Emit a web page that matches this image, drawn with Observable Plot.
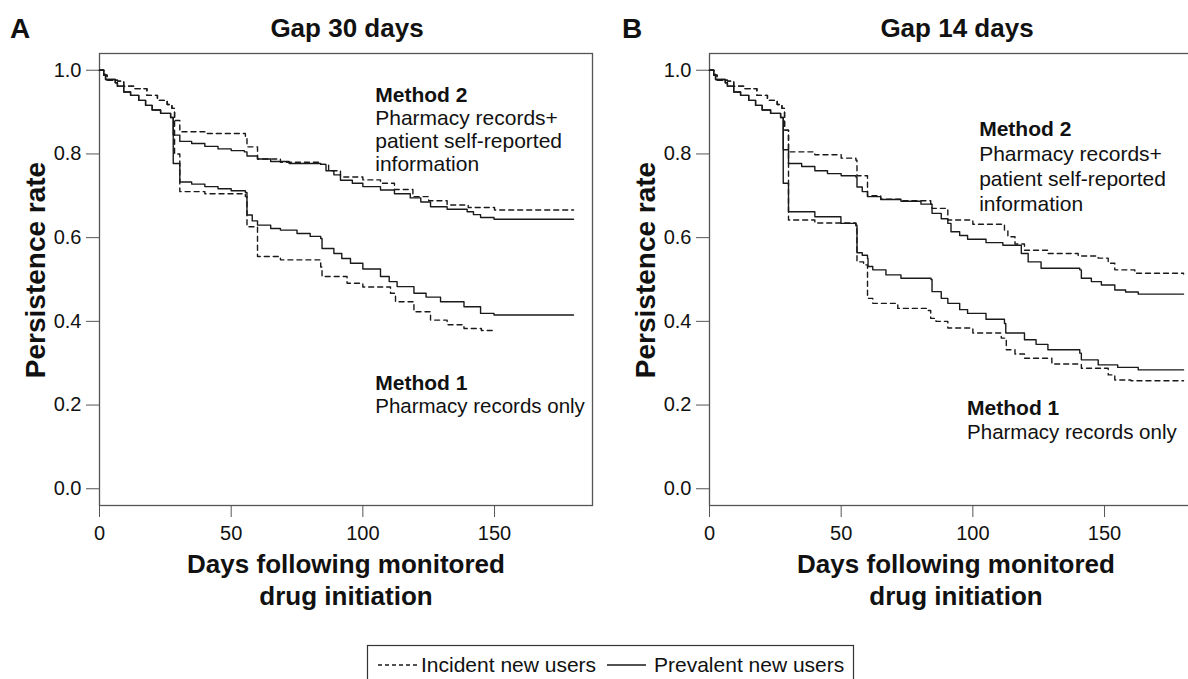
<!DOCTYPE html>
<html>
<head>
<meta charset="utf-8">
<script src="https://cdn.jsdelivr.net/npm/d3@7"></script>
<script src="https://cdn.jsdelivr.net/npm/@observablehq/plot@0.6"></script>
<style>
  html, body { margin: 0; padding: 0; background: #fff; }
  #wrap { position: relative; width: 1188px; height: 679px; overflow: hidden; background: #fff; }
  .panel { position: absolute; top: 0; width: 600px; height: 545px; }
  #ov { position: absolute; left: 0; top: 0; pointer-events: none; }
  text { font-family: "Liberation Sans", Arial, Helvetica, sans-serif; }
</style>
</head>
<body>
<div id="wrap">
  <div id="pa" class="panel" style="left:0px"></div>
  <div id="pb" class="panel" style="left:610px"></div>
  <svg id="ov" width="1188" height="679"></svg>
</div>
<script>
// ---------- data ----------
const panelTitles = ["Gap 30 days", "Gap 14 days"];
const panelLetters = ["A", "B"];
const groups = ["Incident new users", "Prevalent new users"];
const methodLabels = ["Method 2", "Method 1"];
const method2Text = "Pharmacy records+\npatient self-reported\ninformation";
const method1Text = "Pharmacy records only";
const yTicks = [0, 0.2, 0.4, 0.6, 0.8, 1.0];
const xTicks = [0, 50, 100, 150];
const yLabel = "Persistence rate";
const xLabel = "Days following monitored\ndrug initiation";

// first month, identical for both methods
const earlyPrevalent = [[0,1],[1.6,0.99],[2.3,0.978],[6,0.97],[6.8,0.962],[9.2,0.948],[11.8,0.94],[14.9,0.928],[17.5,0.916],[20,0.905],[23.2,0.897],[27,0.887]];
const earlyIncident  = [[0,1],[1.6,0.988],[2.9,0.976],[6.8,0.974],[9.2,0.962],[13,0.956],[18,0.94],[22,0.928],[25.7,0.918],[27.5,0.909]];

// Gap 30 days
const gap30_method2_prevalent = [[28,0.845],[30.5,0.83],[35,0.825],[40,0.818],[45,0.812],[50,0.808],[55,0.805],[56,0.795],[60,0.788],[65,0.782],[72,0.777],[84,0.775],[86,0.76],[89,0.75],[91.5,0.737],[96,0.73],[100,0.722],[106.7,0.714],[112,0.705],[118,0.695],[122,0.685],[125.7,0.674],[132,0.668],[139.6,0.662],[142,0.655],[144.7,0.648],[149.8,0.644],[180,0.644]];
const gap30_method2_incident  = [[28.5,0.88],[30.5,0.853],[40,0.849],[55.4,0.838],[56,0.817],[60,0.788],[68.7,0.78],[84,0.775],[87,0.76],[91.5,0.745],[100,0.738],[106.7,0.73],[112,0.715],[119,0.698],[125,0.688],[132,0.678],[140,0.672],[150,0.666],[180,0.666]];
const gap30_method1_prevalent = [[28,0.777],[30.5,0.733],[35,0.728],[40,0.722],[45,0.717],[50,0.712],[55.4,0.708],[56,0.654],[58,0.64],[60,0.63],[65,0.622],[68.7,0.618],[75,0.61],[80,0.603],[84,0.598],[84.5,0.574],[89,0.562],[92,0.55],[95.3,0.539],[100,0.525],[106.7,0.507],[110,0.495],[113,0.483],[119.4,0.467],[124,0.458],[129.5,0.447],[138.4,0.435],[144.7,0.419],[149.8,0.415],[180,0.415]];
const gap30_method1_incident  = [[28.5,0.80],[30.5,0.71],[40,0.705],[55.4,0.698],[56,0.626],[60,0.555],[68.7,0.547],[84,0.53],[84.5,0.507],[94,0.491],[100,0.482],[110.5,0.467],[112.4,0.447],[119.4,0.423],[125.7,0.403],[132,0.392],[138.4,0.383],[145,0.378],[150,0.375]];

// Gap 14 days
const gap14_method2_prevalent = [[28,0.81],[30,0.777],[35,0.77],[40,0.76],[44.8,0.753],[50,0.748],[55.6,0.745],[56,0.721],[58,0.71],[60,0.698],[65,0.691],[72.7,0.687],[80.3,0.68],[84.1,0.68],[84.5,0.658],[88,0.645],[90.5,0.634],[91.7,0.614],[95,0.605],[98,0.596],[105,0.588],[111.4,0.582],[118.4,0.562],[121,0.542],[125.9,0.527],[140.6,0.523],[141.2,0.503],[145,0.495],[148.8,0.487],[153.9,0.475],[158,0.47],[162.8,0.465],[180,0.465]];
const gap14_method2_incident  = [[28.5,0.857],[30,0.805],[40,0.798],[50,0.79],[55.6,0.785],[56,0.748],[60,0.70],[65,0.692],[72.7,0.688],[84,0.68],[84.5,0.67],[90.5,0.642],[100,0.632],[112,0.618],[113.3,0.602],[116,0.585],[119.6,0.57],[128.5,0.562],[140,0.556],[147.6,0.551],[151.4,0.539],[153.9,0.523],[161.5,0.515],[180,0.513]];
const gap14_method1_prevalent = [[28,0.73],[30,0.662],[40,0.65],[49.9,0.634],[55.6,0.63],[56,0.564],[58,0.558],[60,0.55],[60.2,0.531],[62,0.523],[67,0.511],[72.7,0.503],[84.1,0.50],[84.5,0.471],[88,0.455],[90.5,0.443],[95,0.428],[98,0.419],[105,0.405],[112,0.395],[112.5,0.372],[119.6,0.356],[124,0.345],[128.5,0.332],[140.6,0.324],[141.2,0.308],[147.6,0.296],[155,0.29],[162.8,0.284],[180,0.284]];
const gap14_method1_incident  = [[28.5,0.857],[30,0.642],[40,0.635],[55.6,0.626],[56,0.542],[58.5,0.535],[60,0.455],[62,0.443],[71.5,0.431],[82.9,0.426],[84,0.407],[86,0.40],[90.5,0.384],[100,0.372],[110.8,0.36],[112.7,0.332],[116,0.322],[119.6,0.312],[130,0.298],[141.2,0.288],[151.4,0.272],[153.9,0.26],[160,0.258],[180,0.258]];

// ---------- build tables ----------
function rows(early, rest, group, method) {
  return early.concat(rest).map(([day, rate]) => ({day, rate, group, method}));
}
const panelData = [
  [].concat(
    rows(earlyIncident, gap30_method2_incident, groups[0], "M2"),
    rows(earlyIncident, gap30_method1_incident, groups[0], "M1"),
    rows(earlyPrevalent, gap30_method2_prevalent, groups[1], "M2"),
    rows(earlyPrevalent, gap30_method1_prevalent, groups[1], "M1")
  ),
  [].concat(
    rows(earlyIncident, gap14_method2_incident, groups[0], "M2"),
    rows(earlyIncident, gap14_method1_incident, groups[0], "M1"),
    rows(earlyPrevalent, gap14_method2_prevalent, groups[1], "M2"),
    rows(earlyPrevalent, gap14_method1_prevalent, groups[1], "M1")
  )
];

// annotation anchors (data coordinates) per panel
const annot = [
  {m2x: 104.7, m2y: 0.924, m2ly: 0.759, lh: 1.1, m1x: 104.7, m1y: 0.236, m1ly: 0.181},
  {m2x: 102.4, m2y: 0.843, m2ly: 0.663, lh: 1.19, m1x: 97.8, m1y: 0.177, m1ly: 0.119}
];

const FONT = '"Liberation Sans", Arial, Helvetica, sans-serif';
const INK = "#1a1a1a";

function makePanel(i) {
  const data = panelData[i];
  const a = annot[i];
  return Plot.plot({
    width: 600, height: 545,
    marginLeft: 99, marginRight: 8, marginTop: 53, marginBottom: 40,
    style: {fontFamily: FONT, fontSize: "20px", color: "#111", background: "transparent", maxWidth: "none", overflow: "visible"},
    x: {domain: [0, 187.2]},
    y: {domain: [-0.04, 1.04]},
    marks: [
      Plot.frame({stroke: "#555", strokeWidth: 1.3}),
      Plot.axisX({ticks: xTicks, tickSize: 12, tickPadding: 8, label: null, fontSize: 20, stroke: "#555", fill: "#111"}),
      Plot.axisY({ticks: yTicks, tickFormat: d => d.toFixed(1), tickSize: 13, tickPadding: 5, label: null, fontSize: 20, stroke: "#555", fill: "#111"}),
      Plot.line(data.filter(d => d.group === groups[1]), {x: "day", y: "rate", z: "method", curve: "step-after", stroke: INK, strokeWidth: 1.4}),
      Plot.line(data.filter(d => d.group === groups[0]), {x: "day", y: "rate", z: "method", curve: "step-after", stroke: INK, strokeWidth: 1.4, strokeDasharray: "5,4"}),
      Plot.text([methodLabels[0]], {x: () => a.m2x, y: () => a.m2y, text: d => d, textAnchor: "start", lineAnchor: "bottom", fontSize: 21, fontWeight: "bold", fill: "#111"}),
      Plot.text([method2Text], {x: () => a.m2x, y: () => a.m2ly, text: d => d, textAnchor: "start", lineAnchor: "bottom", lineHeight: a.lh, fontSize: 21, fill: "#111"}),
      Plot.text([methodLabels[1]], {x: () => a.m1x, y: () => a.m1y, text: d => d, textAnchor: "start", lineAnchor: "bottom", fontSize: 21, fontWeight: "bold", fill: "#111"}),
      Plot.text([method1Text], {x: () => a.m1x, y: () => a.m1ly, text: d => d, textAnchor: "start", lineAnchor: "bottom", fontSize: 20.5, fill: "#111"})
    ]
  });
}

document.getElementById("pa").appendChild(makePanel(0));
document.getElementById("pb").appendChild(makePanel(1));

// ---------- titles, axis titles, legend ----------
const ov = d3.select("#ov");
const offsets = [0, 610];
offsets.forEach((dx, i) => {
  ov.append("text").attr("x", 10 + dx + (i ? 2 : 0)).attr("y", 38).attr("font-size", 28).attr("font-weight", "bold").attr("fill", "#111").text(panelLetters[i]);
  ov.append("text").attr("x", 347 + dx).attr("y", 37).attr("text-anchor", "middle").attr("font-size", 26).attr("font-weight", "bold").attr("fill", "#111").text(panelTitles[i]);
  ov.append("text").attr("transform", `translate(${45 + dx},270) rotate(-90)`).attr("text-anchor", "middle").attr("font-size", 28).attr("font-weight", "bold").attr("fill", "#111").text(yLabel);
  xLabel.split("\n").forEach((ln, k) => {
    ov.append("text").attr("x", 346 + dx).attr("y", 573 + k * 32).attr("text-anchor", "middle").attr("font-size", 26).attr("font-weight", "bold").attr("fill", "#111").text(ln);
  });
});

// legend
ov.append("rect").attr("x", 367.5).attr("y", 645.5).attr("width", 486).attr("height", 60).attr("fill", "none").attr("stroke", "#333").attr("stroke-width", 1.2);
ov.append("line").attr("x1", 378).attr("x2", 417).attr("y1", 665).attr("y2", 665).attr("stroke", INK).attr("stroke-width", 1.4).attr("stroke-dasharray", "4,3");
ov.append("text").attr("x", 421).attr("y", 672).attr("font-size", 21).attr("fill", "#111").text(groups[0]);
ov.append("line").attr("x1", 607).attr("x2", 646).attr("y1", 665).attr("y2", 665).attr("stroke", INK).attr("stroke-width", 1.4);
ov.append("text").attr("x", 654).attr("y", 672).attr("font-size", 21).attr("fill", "#111").text(groups[1]);
</script>
</body>
</html>
